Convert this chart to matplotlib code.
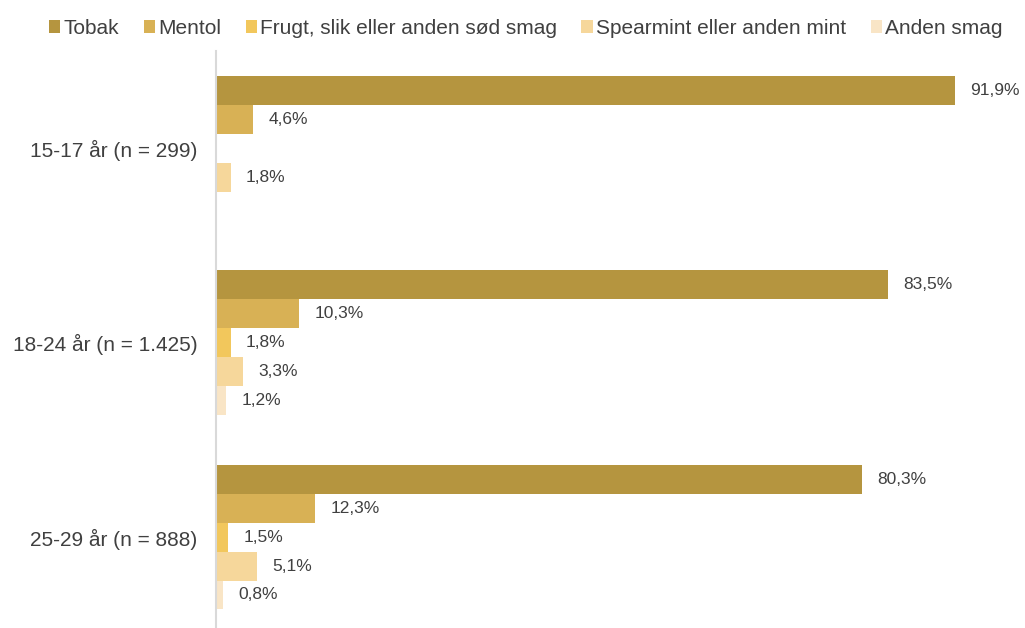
import matplotlib.pyplot as plt
import numpy as np

plt.rcParams['font.family'] = ['Liberation Sans', 'DejaVu Sans']

# Data
groups = ['15-17 år (n = 299)', '18-24 år (n = 1.425)', '25-29 år (n = 888)']
series = ['Tobak', 'Mentol', 'Frugt, slik eller anden sød smag',
          'Spearmint eller anden mint', 'Anden smag']
tobak = [91.9, 83.5, 80.3]
mentol = [4.6, 10.3, 12.3]
frugt = [np.nan, 1.8, 1.5]
spearmint = [1.8, 3.3, 5.1]
anden = [np.nan, 1.2, 0.8]
values = [tobak, mentol, frugt, spearmint, anden]
colors = ['#B5953F', '#D8B155', '#F2C75C', '#F6D79B', '#F9E5C6']

fig = plt.figure(figsize=(10.25, 6.28), dpi=100)
ax = fig.add_axes([0.211, -0.01, 0.7845, 0.929])

y = np.arange(len(groups))
h = 0.149
for i, (name, vals, c) in enumerate(zip(series, values, colors)):
    pos = y + (i - 2) * h
    ax.barh(pos, vals, height=h, color=c, label=name)
    for p, v in zip(pos, vals):
        if not np.isnan(v):
            ax.text(v + 1.9, p, f'{v:.1f}%'.replace('.', ','), va='center',
                    ha='left', fontsize=12.5, color='#404040')

ax.set_xlim(0, 100)
ax.set_ylim(2.5, -0.5)
ax.set_yticks(y)
ax.set_yticklabels(groups, fontsize=15, color='#404040')
ax.tick_params(axis='y', length=0, pad=13.5)
ax.set_xticks([])
for s in ['top', 'right', 'bottom']:
    ax.spines[s].set_visible(False)
ax.spines['left'].set_color('#D9D9D9')
ax.spines['left'].set_linewidth(1.5)

fig.legend(loc='upper center', bbox_to_anchor=(0.513, 1.0), ncol=5, frameon=False,
           fontsize=15, handlelength=0.55, handleheight=0.55, handletextpad=0.15,
           columnspacing=1.17, labelcolor='#404040')

fig.savefig('out.png', dpi=100)
